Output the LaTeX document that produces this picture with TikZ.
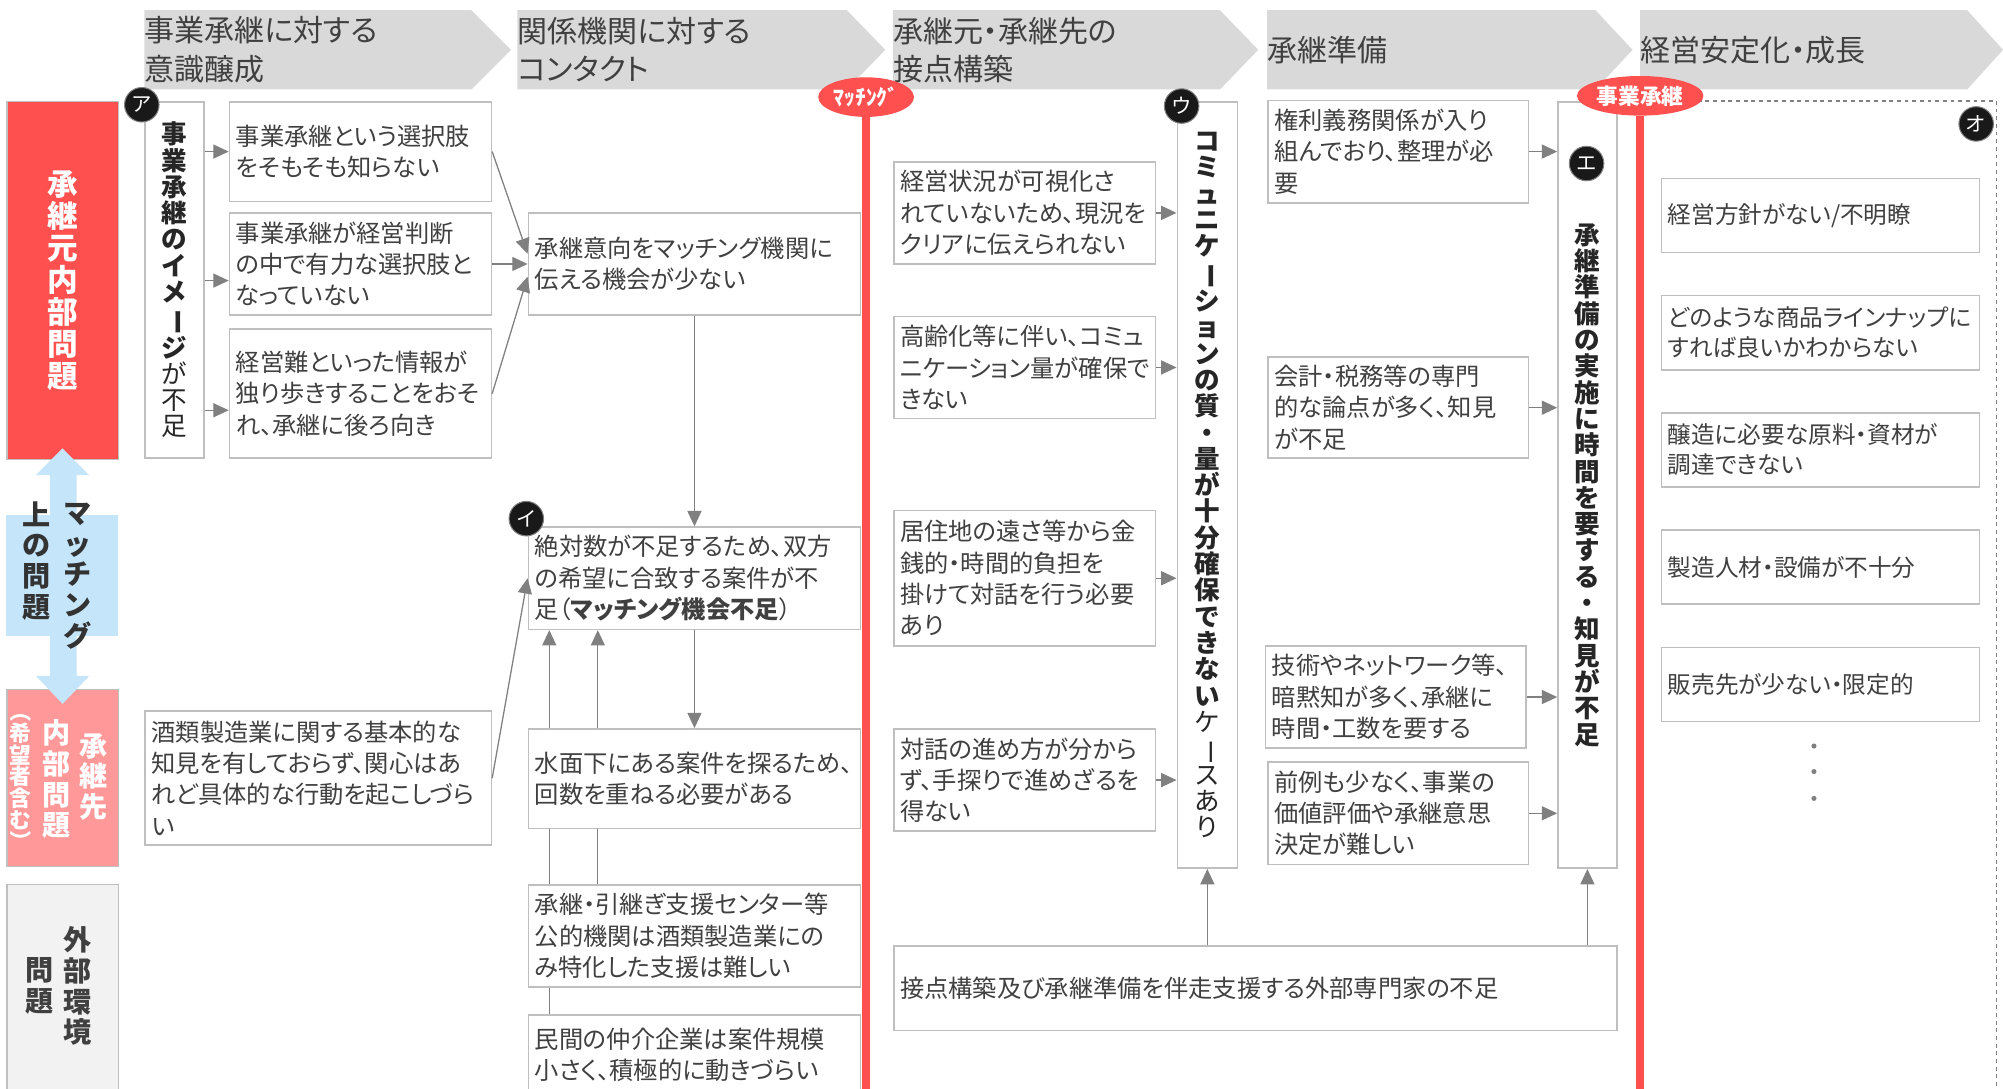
\documentclass[tikz,border=0pt]{standalone}
\usepackage{fontspec}
\setmainfont{Noto Sans CJK JP}[RawFeature=+palt]
\newfontfamily\vfont{Noto Sans CJK JP}
\usetikzlibrary{arrows.meta,positioning,shapes.geometric}

\definecolor{hdrgray}{HTML}{D9D9D9}
\definecolor{boxline}{HTML}{BFBFBF}
\definecolor{txtgray}{HTML}{404040}
\definecolor{arrgray}{HTML}{808080}
\definecolor{mainred}{HTML}{FF5050}
\definecolor{pinkred}{HTML}{FF9999}
\definecolor{paleblue}{HTML}{C5E5FA}
\definecolor{paper}{HTML}{F2F2F2}

% vertical forms for stacked text
\newcommand\vbar{\rotatebox[origin=c]{-90}{ー}}
\newcommand\vopen{\rotatebox[origin=c]{-90}{（}}
\newcommand\vclose{\rotatebox[origin=c]{-90}{）}}

\tikzset{
  box/.style={draw=boxline, line width=1.3pt, fill=white, anchor=north west, align=left,
    inner xsep=5pt, inner ysep=2pt, text=txtgray, font=\fontsize{19}{24.5}\selectfont},
  gbox/.style={box, text width=239pt, minimum height=58pt, font=\fontsize{18.5}{23.5}\selectfont},
  vcol/.style={box, align=center, text width=30pt, inner xsep=8pt, text=black!85,
    font=\vfont\fontsize{20}{20.6}\selectfont},
  rowlab/.style={draw=boxline, line width=1pt, anchor=north west, minimum width=87pt,
    inner sep=0pt, align=center, text width=30pt},
  vlab/.style={align=center, text width=26pt, inner sep=0pt, font=\vfont\bfseries\fontsize{22}{24}\selectfont},
  hdr/.style={anchor=west, align=left, inner sep=0pt, text=txtgray, font=\fontsize{23.5}{30}\selectfont},
  badge/.style={circle, fill=black!90, draw=black!50, line width=0.8pt, text=white,
    inner sep=0pt, minimum size=27pt, font=\vfont\fontsize{16}{16}\selectfont},
  tag/.style={ellipse, fill=mainred, text=white, inner sep=1pt, minimum height=31pt,
    font=\bfseries\fontsize{17}{17}\selectfont},
  arr/.style={color=arrgray, line width=1pt, -{Triangle[length=12pt,width=11pt]}},
  link/.style={color=arrgray, line width=1pt},
  redline/.style={draw=mainred, line width=6pt}
}

\begin{document}
\begin{tikzpicture}[ x=1pt , y=-1pt , node distance=32.5pt ]
\useasboundingbox (0,0) rectangle (1568,852);
\clip (0,0) rectangle (1568,852);

% stage headers
\fill [hdrgray] (113,8) -- (369,8) -- (400,39) -- (369,70) -- (113,70) -- cycle;
\fill [hdrgray] (405,8) -- (663,8) -- (693,39) -- (663,70) -- (405,70) -- cycle;
\fill [hdrgray] (699,8) -- (955,8) -- (985,39) -- (955,70) -- (699,70) -- cycle;
\fill [hdrgray] (992,8) -- (1249,8) -- (1278,39) -- (1249,70) -- (992,70) -- cycle;
\fill [hdrgray] (1284,8) -- (1540,8) -- (1568,39) -- (1540,70) -- (1284,70) -- cycle;
\node [ hdr ] (h1) at (113,39) {事業承継に対する\\意識醸成};
\node [ hdr ] (h2) at (405,39) {関係機関に対する\\コンタクト};
\node [ hdr ] (h3) at (699,39) {承継元・承継先の\\接点構築};
\node [ hdr ] (h4) at (992,39) {承継準備};
\node [ hdr ] (h5) at (1284,39) {経営安定化・成長};

% row labels
\node [ rowlab , fill=mainred , minimum height=280pt , text=white , font=\vfont\bfseries\fontsize{24}{25}\selectfont ] (own) at (5,79) {承\\継\\元\\内\\部\\問\\題};
\node [ rowlab , fill=pinkred , minimum height=139pt ] (succ) at (5,539) {};
\node [ rowlab , fill=paper , minimum height=170pt ] (ext) at (5,692) {};
\fill [ paleblue ] (5,403) rectangle (92,498);
\fill [ paleblue ] (49,351) -- (70,372) -- (60,372) -- (60,529) -- (70,529) -- (49,551)
  -- (28,529) -- (39,529) -- (39,372) -- (28,372) -- cycle;
\node [ vlab , text=black!80 ] (m1) at (61,451) {マ\\ッ\\チ\\ン\\グ};
\node [ vlab , text=black!80 ] (m2) at (29,439) {上\\の\\問\\題};
\node [ vlab , text=white ] (s1) at (73,608) {承\\継\\先};
\node [ vlab , text=white ] (s2) at (44,610) {内\\部\\問\\題};
\node [ vlab , text=white , font=\vfont\bfseries\fontsize{17}{17}\selectfont ] (s3) at (16,608) {\vopen\\希\\望\\者\\含\\む\\\vclose};
\node [ vlab , text=txtgray ] (x1) at (61,772) {外\\部\\環\\境};
\node [ vlab , text=txtgray ] (x2) at (31,772) {問\\題};

% awareness / contact
\node [ vcol , minimum height=279pt ] (a0) at (113,79) {\bfseries 事\\業\\承\\継\\の\\イ\\メ\\\vbar\\ジ\\\mdseries が\\不\\足};
\node [ box , text width=195pt , minimum height=78pt ] (a1) at (179,79) {事業承継という選択肢\\をそもそも知らない};
\node [ box , text width=195pt , minimum height=80pt ] (a2) at (179,166) {事業承継が経営判断\\の中で有力な選択肢と\\なっていない};
\node [ box , text width=195pt , minimum height=101pt ] (a3) at (179,257) {経営難といった情報が\\独り歩きすることをおそ\\れ、承継に後ろ向き};
\node [ box , text width=261pt , minimum height=105pt ] (c1) at (113,556) {酒類製造業に関する基本的な\\知見を有しておらず、関心はあ\\れど具体的な行動を起こしづら\\い};
\node [ box , text width=250pt , minimum height=80pt ] (b1) at (413,166) {承継意向をマッチング機関に\\伝える機会が少ない};
\node [ box , text width=250pt , minimum height=80pt ] (b2) at (413,412) {絶対数が不足するため、双方\\の希望に合致する案件が不\\足（\textbf{マッチング機会不足}）};
\node [ box , text width=250pt , minimum height=78pt ] (b3) at (413,570) {水面下にある案件を探るため、\\回数を重ねる必要がある};
\node [ box , text width=250pt , minimum height=80pt ] (b4) at (413,692) {承継・引継ぎ支援センター等\\公的機関は酒類製造業にの\\み特化した支援は難しい};
\node [ box , text width=250pt , minimum height=62pt ] (b5) at (413,794) {民間の仲介企業は案件規模\\小さく、積極的に動きづらい};

% contact building / preparation
\node [ box , text width=195pt , minimum height=80pt ] (d1) at (699,126) {経営状況が可視化さ\\れていないため、現況を\\クリアに伝えられない};
\node [ box , text width=195pt , minimum height=80pt ] (d2) at (699,247) {高齢化等に伴い、コミュ\\ニケーション量が確保で\\きない};
\node [ box , text width=195pt , minimum height=106pt ] (d3) at (699,399) {居住地の遠さ等から金\\銭的・時間的負担を\\掛けて対話を行う必要\\あり};
\node [ box , text width=195pt , minimum height=80pt ] (d4) at (699,570) {対話の進め方が分から\\ず、手探りで進めざるを\\得ない};
\node [ vcol , text width=31pt , minimum height=600pt ] (d0) at (921,79) {\bfseries コ\\ミ\\ュ\\ニ\\ケ\\\vbar\\シ\\ョ\\ン\\の\\質\\・\\量\\が\\十\\分\\確\\保\\で\\き\\な\\い\\\mdseries ケ\\\vbar\\ス\\あ\\り};
\node [ box , text width=194pt , minimum height=80pt ] (e1) at (992,78) {権利義務関係が入り\\組んでおり、整理が必\\要};
\node [ box , text width=194pt , minimum height=79pt ] (e2) at (992,279) {会計・税務等の専門\\的な論点が多く、知見\\が不足};
\node [ box , text width=194pt , minimum height=80pt ] (e3) at (990,505) {技術やネットワーク等、\\暗黙知が多く、承継に\\時間・工数を要する};
\node [ box , text width=194pt , minimum height=80pt ] (e4) at (992,596) {前例も少なく、事業の\\価値評価や承継意思\\決定が難しい};
\node [ vcol , minimum height=600pt ] (e0) at (1219,79) {\bfseries 承\\継\\準\\備\\の\\実\\施\\に\\時\\間\\を\\要\\す\\る\\・\\知\\見\\が\\不\\足};
\node [ box , text width=556pt , minimum height=66pt ] (f1) at (699,740) {接点構築及び承継準備を伴走支援する外部専門家の不足};

% after succession
\draw [ draw=arrgray , dashed , line width=1pt ] (1284,79) rectangle (1563,880);
\node [ gbox ] (g1) at (1300,139) {経営方針がない/不明瞭};
\node [ gbox , below=of g1 ] (g2) {どのような商品ラインナップに\\すれば良いかわからない};
\node [ gbox , below=of g2 ] (g3) {醸造に必要な原料・資材が\\調達できない};
\node [ gbox , below=of g3 ] (g4) {製造人材・設備が不十分};
\node [ gbox , below=of g4 ] (g5) {販売先が少ない・限定的};
\fill [ arrgray ] (1420,584) circle (2pt) (1420,604) circle (2pt) (1420,625) circle (2pt);

% milestones
\node [ tag ] (tm) at (678,76) {ﾏｯﾁﾝｸﾞ};
\coordinate (tmend) at (678,880);
\draw [ redline ] (tm.south) -- (tmend);
\node [ tag ] (ts) at (1284,75) {事業承継};
\coordinate (tsend) at (1284,880);
\draw [ redline ] (ts.south) -- (tsend);

% badges
\node [ badge ] (ka) at (111,82) {ア};
\node [ badge ] (ki) at (412,406) {イ};
\node [ badge ] (ku) at (925,83) {ウ};
\node [ badge ] (ke) at (1242,128) {エ};
\node [ badge ] (ko) at (1547,97) {オ};

% connectors
\coordinate (a2in) at ([yshift=-13pt]a2.west);
\coordinate (a3in) at ([yshift=-13pt]a3.west);
\coordinate (uA) at (430,0);
\coordinate (uB) at (468,0);
\path [ arr ]
(a0.east |- a1.west) edge (a1.west)
(a0.east |- a2in) edge (a2in)
(a0.east |- a3in) edge (a3in)
(a1.east) edge ([yshift=8pt]b1.west)
(a2.east) edge (b1.west)
(a3.east) edge ([yshift=-10pt]b1.west)
(b1.south) edge (b2.north)
(b2.south) edge (b3.north)
(c1.east) edge (b2.west)
(uA |- b3.north) edge (uA |- b2.south)
(uB |- b3.north) edge (uB |- b2.south)
(d1.east) edge (d0.west |- d1.east)
(d2.east) edge (d0.west |- d2.east)
(d3.east) edge (d0.west |- d3.east)
(d4.east) edge (d0.west |- d4.east)
(e1.east) edge (e0.west |- e1.east)
(e2.east) edge (e0.west |- e2.east)
(e3.east) edge (e0.west |- e3.east)
(e4.east) edge (e0.west |- e4.east)
(d0.south |- f1.north) edge (d0.south)
(e0.south |- f1.north) edge (e0.south);
\path [ link ]
(uA |- b4.north) edge (uA |- b3.south)
(uB |- b4.north) edge (uB |- b3.south)
(uA |- b5.north) edge (uA |- b4.south);
\end{tikzpicture}
\end{document}
